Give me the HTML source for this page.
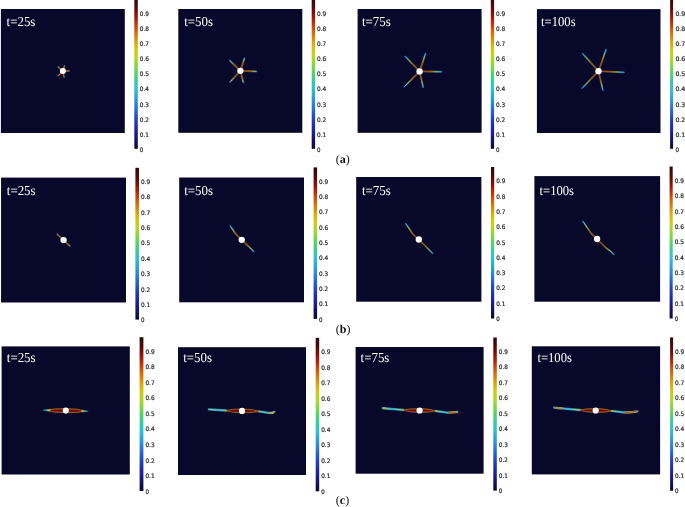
<!DOCTYPE html>
<html><head><meta charset="utf-8"><title>Figure</title>
<style>
html,body{margin:0;padding:0;background:#fff;overflow:hidden}
svg{display:block}
text{text-rendering:geometricPrecision}
.t{font-family:"Liberation Serif","Times New Roman",serif;font-size:13.7px;fill:#fff}
.k{font-family:"DejaVu Sans","Liberation Sans",sans-serif;font-size:6.2px;fill:#222;stroke:#222;stroke-width:0.2px}
.c{font-family:"Liberation Serif","Times New Roman",serif;font-size:12px;fill:#111}
</style></head>
<body>
<svg width="685" height="507" viewBox="0 0 685 507">
<defs>
<linearGradient id="cm" x1="0" y1="1" x2="0" y2="0">
<stop offset="0.0" stop-color="#0a0a2a"/><stop offset="0.05" stop-color="#121260"/><stop offset="0.1" stop-color="#1a1c94"/><stop offset="0.15" stop-color="#1e2eb0"/><stop offset="0.2" stop-color="#2244c4"/><stop offset="0.25" stop-color="#2666d2"/><stop offset="0.3" stop-color="#2a88dc"/><stop offset="0.35" stop-color="#2aa8da"/><stop offset="0.4" stop-color="#2cc4d0"/><stop offset="0.45" stop-color="#38cc9c"/><stop offset="0.5" stop-color="#54d468"/><stop offset="0.55" stop-color="#84d83c"/><stop offset="0.6" stop-color="#b4d81c"/><stop offset="0.65" stop-color="#d4c810"/><stop offset="0.7" stop-color="#dca40a"/><stop offset="0.75" stop-color="#d87808"/><stop offset="0.8" stop-color="#cc4c08"/><stop offset="0.85" stop-color="#b02008"/><stop offset="0.9" stop-color="#7c0c08"/><stop offset="0.95" stop-color="#4a0a08"/><stop offset="1.0" stop-color="#2a0a0a"/>
</linearGradient>
<filter id="b" x="-20%" y="-20%" width="140%" height="140%"><feGaussianBlur stdDeviation="0.35"/></filter>
<linearGradient id="g1c" gradientUnits="userSpaceOnUse" x1="62.90" y1="71.10" x2="58.10" y2="66.80"><stop offset="0" stop-color="#b85010"/><stop offset="0.75" stop-color="#c06414"/><stop offset="0.92" stop-color="#a08840"/><stop offset="1" stop-color="#507890"/></linearGradient>
<linearGradient id="g1h" gradientUnits="userSpaceOnUse" x1="62.90" y1="71.10" x2="58.10" y2="66.80"><stop offset="0" stop-color="#604020"/><stop offset="0.8" stop-color="#705028"/><stop offset="1" stop-color="#204868"/></linearGradient>
<linearGradient id="g2c" gradientUnits="userSpaceOnUse" x1="62.90" y1="71.10" x2="64.50" y2="65.60"><stop offset="0" stop-color="#b85010"/><stop offset="0.75" stop-color="#c06414"/><stop offset="0.92" stop-color="#a08840"/><stop offset="1" stop-color="#507890"/></linearGradient>
<linearGradient id="g2h" gradientUnits="userSpaceOnUse" x1="62.90" y1="71.10" x2="64.50" y2="65.60"><stop offset="0" stop-color="#604020"/><stop offset="0.8" stop-color="#705028"/><stop offset="1" stop-color="#204868"/></linearGradient>
<linearGradient id="g3c" gradientUnits="userSpaceOnUse" x1="62.90" y1="71.10" x2="69.30" y2="70.90"><stop offset="0" stop-color="#b85010"/><stop offset="0.75" stop-color="#c06414"/><stop offset="0.92" stop-color="#a08840"/><stop offset="1" stop-color="#507890"/></linearGradient>
<linearGradient id="g3h" gradientUnits="userSpaceOnUse" x1="62.90" y1="71.10" x2="69.30" y2="70.90"><stop offset="0" stop-color="#604020"/><stop offset="0.8" stop-color="#705028"/><stop offset="1" stop-color="#204868"/></linearGradient>
<linearGradient id="g4c" gradientUnits="userSpaceOnUse" x1="62.90" y1="71.10" x2="58.10" y2="75.70"><stop offset="0" stop-color="#b85010"/><stop offset="0.75" stop-color="#c06414"/><stop offset="0.92" stop-color="#a08840"/><stop offset="1" stop-color="#507890"/></linearGradient>
<linearGradient id="g4h" gradientUnits="userSpaceOnUse" x1="62.90" y1="71.10" x2="58.10" y2="75.70"><stop offset="0" stop-color="#604020"/><stop offset="0.8" stop-color="#705028"/><stop offset="1" stop-color="#204868"/></linearGradient>
<linearGradient id="g5c" gradientUnits="userSpaceOnUse" x1="62.90" y1="71.10" x2="64.10" y2="77.50"><stop offset="0" stop-color="#b85010"/><stop offset="0.75" stop-color="#c06414"/><stop offset="0.92" stop-color="#a08840"/><stop offset="1" stop-color="#507890"/></linearGradient>
<linearGradient id="g5h" gradientUnits="userSpaceOnUse" x1="62.90" y1="71.10" x2="64.10" y2="77.50"><stop offset="0" stop-color="#604020"/><stop offset="0.8" stop-color="#705028"/><stop offset="1" stop-color="#204868"/></linearGradient>
<linearGradient id="g6c" gradientUnits="userSpaceOnUse" x1="240.40" y1="70.80" x2="229.75" y2="60.54"><stop offset="0" stop-color="#a03c0c"/><stop offset="0.6" stop-color="#b04c10"/><stop offset="0.78" stop-color="#c88414"/><stop offset="0.88" stop-color="#b8c838"/><stop offset="0.95" stop-color="#50d0b8"/><stop offset="1" stop-color="#38a8e0"/></linearGradient>
<linearGradient id="g6h" gradientUnits="userSpaceOnUse" x1="240.40" y1="70.80" x2="229.75" y2="60.54"><stop offset="0" stop-color="#907020"/><stop offset="0.55" stop-color="#a08828"/><stop offset="0.8" stop-color="#50a090"/><stop offset="1" stop-color="#2464b8"/></linearGradient>
<linearGradient id="g7c" gradientUnits="userSpaceOnUse" x1="240.40" y1="70.80" x2="244.50" y2="58.30"><stop offset="0" stop-color="#a03c0c"/><stop offset="0.6" stop-color="#b04c10"/><stop offset="0.78" stop-color="#c88414"/><stop offset="0.88" stop-color="#b8c838"/><stop offset="0.95" stop-color="#50d0b8"/><stop offset="1" stop-color="#38a8e0"/></linearGradient>
<linearGradient id="g7h" gradientUnits="userSpaceOnUse" x1="240.40" y1="70.80" x2="244.50" y2="58.30"><stop offset="0" stop-color="#907020"/><stop offset="0.55" stop-color="#a08828"/><stop offset="0.8" stop-color="#50a090"/><stop offset="1" stop-color="#2464b8"/></linearGradient>
<linearGradient id="g8c" gradientUnits="userSpaceOnUse" x1="240.40" y1="70.80" x2="256.40" y2="71.40"><stop offset="0" stop-color="#a03c0c"/><stop offset="0.6" stop-color="#b04c10"/><stop offset="0.78" stop-color="#c88414"/><stop offset="0.88" stop-color="#b8c838"/><stop offset="0.95" stop-color="#50d0b8"/><stop offset="1" stop-color="#38a8e0"/></linearGradient>
<linearGradient id="g8h" gradientUnits="userSpaceOnUse" x1="240.40" y1="70.80" x2="256.40" y2="71.40"><stop offset="0" stop-color="#907020"/><stop offset="0.55" stop-color="#a08828"/><stop offset="0.8" stop-color="#50a090"/><stop offset="1" stop-color="#2464b8"/></linearGradient>
<linearGradient id="g9c" gradientUnits="userSpaceOnUse" x1="240.40" y1="70.80" x2="230.20" y2="81.90"><stop offset="0" stop-color="#a03c0c"/><stop offset="0.6" stop-color="#b04c10"/><stop offset="0.78" stop-color="#c88414"/><stop offset="0.88" stop-color="#b8c838"/><stop offset="0.95" stop-color="#50d0b8"/><stop offset="1" stop-color="#38a8e0"/></linearGradient>
<linearGradient id="g9h" gradientUnits="userSpaceOnUse" x1="240.40" y1="70.80" x2="230.20" y2="81.90"><stop offset="0" stop-color="#907020"/><stop offset="0.55" stop-color="#a08828"/><stop offset="0.8" stop-color="#50a090"/><stop offset="1" stop-color="#2464b8"/></linearGradient>
<linearGradient id="g10c" gradientUnits="userSpaceOnUse" x1="240.40" y1="70.80" x2="243.30" y2="82.40"><stop offset="0" stop-color="#a03c0c"/><stop offset="0.6" stop-color="#b04c10"/><stop offset="0.78" stop-color="#c88414"/><stop offset="0.88" stop-color="#b8c838"/><stop offset="0.95" stop-color="#50d0b8"/><stop offset="1" stop-color="#38a8e0"/></linearGradient>
<linearGradient id="g10h" gradientUnits="userSpaceOnUse" x1="240.40" y1="70.80" x2="243.30" y2="82.40"><stop offset="0" stop-color="#907020"/><stop offset="0.55" stop-color="#a08828"/><stop offset="0.8" stop-color="#50a090"/><stop offset="1" stop-color="#2464b8"/></linearGradient>
<linearGradient id="g11c" gradientUnits="userSpaceOnUse" x1="419.60" y1="71.40" x2="405.20" y2="56.40"><stop offset="0" stop-color="#a03c0c"/><stop offset="0.45" stop-color="#b04c10"/><stop offset="0.62" stop-color="#c88414"/><stop offset="0.74" stop-color="#c0c830"/><stop offset="0.85" stop-color="#60d0a0"/><stop offset="0.93" stop-color="#38c8e0"/><stop offset="1" stop-color="#38a0e8"/></linearGradient>
<linearGradient id="g11h" gradientUnits="userSpaceOnUse" x1="419.60" y1="71.40" x2="405.20" y2="56.40"><stop offset="0" stop-color="#907020"/><stop offset="0.4" stop-color="#a08c28"/><stop offset="0.65" stop-color="#58a878"/><stop offset="0.85" stop-color="#2c8cb8"/><stop offset="1" stop-color="#2454b8"/></linearGradient>
<linearGradient id="g12c" gradientUnits="userSpaceOnUse" x1="419.60" y1="71.40" x2="425.50" y2="53.60"><stop offset="0" stop-color="#a03c0c"/><stop offset="0.45" stop-color="#b04c10"/><stop offset="0.62" stop-color="#c88414"/><stop offset="0.74" stop-color="#c0c830"/><stop offset="0.85" stop-color="#60d0a0"/><stop offset="0.93" stop-color="#38c8e0"/><stop offset="1" stop-color="#38a0e8"/></linearGradient>
<linearGradient id="g12h" gradientUnits="userSpaceOnUse" x1="419.60" y1="71.40" x2="425.50" y2="53.60"><stop offset="0" stop-color="#907020"/><stop offset="0.4" stop-color="#a08c28"/><stop offset="0.65" stop-color="#58a878"/><stop offset="0.85" stop-color="#2c8cb8"/><stop offset="1" stop-color="#2454b8"/></linearGradient>
<linearGradient id="g13c" gradientUnits="userSpaceOnUse" x1="419.60" y1="71.40" x2="441.50" y2="71.80"><stop offset="0" stop-color="#a03c0c"/><stop offset="0.45" stop-color="#b04c10"/><stop offset="0.62" stop-color="#c88414"/><stop offset="0.74" stop-color="#c0c830"/><stop offset="0.85" stop-color="#60d0a0"/><stop offset="0.93" stop-color="#38c8e0"/><stop offset="1" stop-color="#38a0e8"/></linearGradient>
<linearGradient id="g13h" gradientUnits="userSpaceOnUse" x1="419.60" y1="71.40" x2="441.50" y2="71.80"><stop offset="0" stop-color="#907020"/><stop offset="0.4" stop-color="#a08c28"/><stop offset="0.65" stop-color="#58a878"/><stop offset="0.85" stop-color="#2c8cb8"/><stop offset="1" stop-color="#2454b8"/></linearGradient>
<linearGradient id="g14c" gradientUnits="userSpaceOnUse" x1="419.60" y1="71.40" x2="404.20" y2="86.80"><stop offset="0" stop-color="#a03c0c"/><stop offset="0.45" stop-color="#b04c10"/><stop offset="0.62" stop-color="#c88414"/><stop offset="0.74" stop-color="#c0c830"/><stop offset="0.85" stop-color="#60d0a0"/><stop offset="0.93" stop-color="#38c8e0"/><stop offset="1" stop-color="#38a0e8"/></linearGradient>
<linearGradient id="g14h" gradientUnits="userSpaceOnUse" x1="419.60" y1="71.40" x2="404.20" y2="86.80"><stop offset="0" stop-color="#907020"/><stop offset="0.4" stop-color="#a08c28"/><stop offset="0.65" stop-color="#58a878"/><stop offset="0.85" stop-color="#2c8cb8"/><stop offset="1" stop-color="#2454b8"/></linearGradient>
<linearGradient id="g15c" gradientUnits="userSpaceOnUse" x1="419.60" y1="71.40" x2="423.20" y2="87.40"><stop offset="0" stop-color="#a03c0c"/><stop offset="0.45" stop-color="#b04c10"/><stop offset="0.62" stop-color="#c88414"/><stop offset="0.74" stop-color="#c0c830"/><stop offset="0.85" stop-color="#60d0a0"/><stop offset="0.93" stop-color="#38c8e0"/><stop offset="1" stop-color="#38a0e8"/></linearGradient>
<linearGradient id="g15h" gradientUnits="userSpaceOnUse" x1="419.60" y1="71.40" x2="423.20" y2="87.40"><stop offset="0" stop-color="#907020"/><stop offset="0.4" stop-color="#a08c28"/><stop offset="0.65" stop-color="#58a878"/><stop offset="0.85" stop-color="#2c8cb8"/><stop offset="1" stop-color="#2454b8"/></linearGradient>
<linearGradient id="g16c" gradientUnits="userSpaceOnUse" x1="598.50" y1="71.20" x2="582.60" y2="53.70"><stop offset="0" stop-color="#a03c0c"/><stop offset="0.45" stop-color="#b04c10"/><stop offset="0.62" stop-color="#c88414"/><stop offset="0.74" stop-color="#c0c830"/><stop offset="0.85" stop-color="#60d0a0"/><stop offset="0.93" stop-color="#38c8e0"/><stop offset="1" stop-color="#38a0e8"/></linearGradient>
<linearGradient id="g16h" gradientUnits="userSpaceOnUse" x1="598.50" y1="71.20" x2="582.60" y2="53.70"><stop offset="0" stop-color="#907020"/><stop offset="0.4" stop-color="#a08c28"/><stop offset="0.65" stop-color="#58a878"/><stop offset="0.85" stop-color="#2c8cb8"/><stop offset="1" stop-color="#2454b8"/></linearGradient>
<linearGradient id="g17c" gradientUnits="userSpaceOnUse" x1="598.50" y1="71.20" x2="606.10" y2="49.50"><stop offset="0" stop-color="#a03c0c"/><stop offset="0.45" stop-color="#b04c10"/><stop offset="0.62" stop-color="#c88414"/><stop offset="0.74" stop-color="#c0c830"/><stop offset="0.85" stop-color="#60d0a0"/><stop offset="0.93" stop-color="#38c8e0"/><stop offset="1" stop-color="#38a0e8"/></linearGradient>
<linearGradient id="g17h" gradientUnits="userSpaceOnUse" x1="598.50" y1="71.20" x2="606.10" y2="49.50"><stop offset="0" stop-color="#907020"/><stop offset="0.4" stop-color="#a08c28"/><stop offset="0.65" stop-color="#58a878"/><stop offset="0.85" stop-color="#2c8cb8"/><stop offset="1" stop-color="#2454b8"/></linearGradient>
<linearGradient id="g18c" gradientUnits="userSpaceOnUse" x1="598.50" y1="71.20" x2="624.00" y2="72.30"><stop offset="0" stop-color="#a03c0c"/><stop offset="0.45" stop-color="#b04c10"/><stop offset="0.62" stop-color="#c88414"/><stop offset="0.74" stop-color="#c0c830"/><stop offset="0.85" stop-color="#60d0a0"/><stop offset="0.93" stop-color="#38c8e0"/><stop offset="1" stop-color="#38a0e8"/></linearGradient>
<linearGradient id="g18h" gradientUnits="userSpaceOnUse" x1="598.50" y1="71.20" x2="624.00" y2="72.30"><stop offset="0" stop-color="#907020"/><stop offset="0.4" stop-color="#a08c28"/><stop offset="0.65" stop-color="#58a878"/><stop offset="0.85" stop-color="#2c8cb8"/><stop offset="1" stop-color="#2454b8"/></linearGradient>
<linearGradient id="g19c" gradientUnits="userSpaceOnUse" x1="598.50" y1="71.20" x2="582.20" y2="88.20"><stop offset="0" stop-color="#a03c0c"/><stop offset="0.45" stop-color="#b04c10"/><stop offset="0.62" stop-color="#c88414"/><stop offset="0.74" stop-color="#c0c830"/><stop offset="0.85" stop-color="#60d0a0"/><stop offset="0.93" stop-color="#38c8e0"/><stop offset="1" stop-color="#38a0e8"/></linearGradient>
<linearGradient id="g19h" gradientUnits="userSpaceOnUse" x1="598.50" y1="71.20" x2="582.20" y2="88.20"><stop offset="0" stop-color="#907020"/><stop offset="0.4" stop-color="#a08c28"/><stop offset="0.65" stop-color="#58a878"/><stop offset="0.85" stop-color="#2c8cb8"/><stop offset="1" stop-color="#2454b8"/></linearGradient>
<linearGradient id="g20c" gradientUnits="userSpaceOnUse" x1="598.50" y1="71.20" x2="602.90" y2="90.20"><stop offset="0" stop-color="#a03c0c"/><stop offset="0.45" stop-color="#b04c10"/><stop offset="0.62" stop-color="#c88414"/><stop offset="0.74" stop-color="#c0c830"/><stop offset="0.85" stop-color="#60d0a0"/><stop offset="0.93" stop-color="#38c8e0"/><stop offset="1" stop-color="#38a0e8"/></linearGradient>
<linearGradient id="g20h" gradientUnits="userSpaceOnUse" x1="598.50" y1="71.20" x2="602.90" y2="90.20"><stop offset="0" stop-color="#907020"/><stop offset="0.4" stop-color="#a08c28"/><stop offset="0.65" stop-color="#58a878"/><stop offset="0.85" stop-color="#2c8cb8"/><stop offset="1" stop-color="#2454b8"/></linearGradient>
<linearGradient id="g21c" gradientUnits="userSpaceOnUse" x1="63.60" y1="240.10" x2="57.20" y2="234.20"><stop offset="0" stop-color="#b85010"/><stop offset="0.75" stop-color="#c06414"/><stop offset="0.92" stop-color="#a08840"/><stop offset="1" stop-color="#507890"/></linearGradient>
<linearGradient id="g21h" gradientUnits="userSpaceOnUse" x1="63.60" y1="240.10" x2="57.20" y2="234.20"><stop offset="0" stop-color="#604020"/><stop offset="0.8" stop-color="#705028"/><stop offset="1" stop-color="#204868"/></linearGradient>
<linearGradient id="g22c" gradientUnits="userSpaceOnUse" x1="63.60" y1="240.10" x2="69.70" y2="246.00"><stop offset="0" stop-color="#b85010"/><stop offset="0.75" stop-color="#c06414"/><stop offset="0.92" stop-color="#a08840"/><stop offset="1" stop-color="#507890"/></linearGradient>
<linearGradient id="g22h" gradientUnits="userSpaceOnUse" x1="63.60" y1="240.10" x2="69.70" y2="246.00"><stop offset="0" stop-color="#604020"/><stop offset="0.8" stop-color="#705028"/><stop offset="1" stop-color="#204868"/></linearGradient>
<linearGradient id="g23c" gradientUnits="userSpaceOnUse" x1="241.70" y1="239.80" x2="230.30" y2="226.00"><stop offset="0" stop-color="#a03c0c"/><stop offset="0.45" stop-color="#b04c10"/><stop offset="0.62" stop-color="#c88414"/><stop offset="0.74" stop-color="#c0c830"/><stop offset="0.85" stop-color="#60d0a0"/><stop offset="0.93" stop-color="#38c8e0"/><stop offset="1" stop-color="#38a0e8"/></linearGradient>
<linearGradient id="g23h" gradientUnits="userSpaceOnUse" x1="241.70" y1="239.80" x2="230.30" y2="226.00"><stop offset="0" stop-color="#907020"/><stop offset="0.4" stop-color="#a08c28"/><stop offset="0.65" stop-color="#58a878"/><stop offset="0.85" stop-color="#2c8cb8"/><stop offset="1" stop-color="#2454b8"/></linearGradient>
<linearGradient id="g24c" gradientUnits="userSpaceOnUse" x1="241.70" y1="239.80" x2="254.00" y2="251.60"><stop offset="0" stop-color="#a03c0c"/><stop offset="0.45" stop-color="#b04c10"/><stop offset="0.62" stop-color="#c88414"/><stop offset="0.74" stop-color="#c0c830"/><stop offset="0.85" stop-color="#60d0a0"/><stop offset="0.93" stop-color="#38c8e0"/><stop offset="1" stop-color="#38a0e8"/></linearGradient>
<linearGradient id="g24h" gradientUnits="userSpaceOnUse" x1="241.70" y1="239.80" x2="254.00" y2="251.60"><stop offset="0" stop-color="#907020"/><stop offset="0.4" stop-color="#a08c28"/><stop offset="0.65" stop-color="#58a878"/><stop offset="0.85" stop-color="#2c8cb8"/><stop offset="1" stop-color="#2454b8"/></linearGradient>
<linearGradient id="g25c" gradientUnits="userSpaceOnUse" x1="418.80" y1="239.50" x2="405.70" y2="223.60"><stop offset="0" stop-color="#a03c0c"/><stop offset="0.45" stop-color="#b04c10"/><stop offset="0.62" stop-color="#c88414"/><stop offset="0.74" stop-color="#c0c830"/><stop offset="0.85" stop-color="#60d0a0"/><stop offset="0.93" stop-color="#38c8e0"/><stop offset="1" stop-color="#38a0e8"/></linearGradient>
<linearGradient id="g25h" gradientUnits="userSpaceOnUse" x1="418.80" y1="239.50" x2="405.70" y2="223.60"><stop offset="0" stop-color="#907020"/><stop offset="0.4" stop-color="#a08c28"/><stop offset="0.65" stop-color="#58a878"/><stop offset="0.85" stop-color="#2c8cb8"/><stop offset="1" stop-color="#2454b8"/></linearGradient>
<linearGradient id="g26c" gradientUnits="userSpaceOnUse" x1="418.80" y1="239.50" x2="432.60" y2="253.30"><stop offset="0" stop-color="#a03c0c"/><stop offset="0.45" stop-color="#b04c10"/><stop offset="0.62" stop-color="#c88414"/><stop offset="0.74" stop-color="#c0c830"/><stop offset="0.85" stop-color="#60d0a0"/><stop offset="0.93" stop-color="#38c8e0"/><stop offset="1" stop-color="#38a0e8"/></linearGradient>
<linearGradient id="g26h" gradientUnits="userSpaceOnUse" x1="418.80" y1="239.50" x2="432.60" y2="253.30"><stop offset="0" stop-color="#907020"/><stop offset="0.4" stop-color="#a08c28"/><stop offset="0.65" stop-color="#58a878"/><stop offset="0.85" stop-color="#2c8cb8"/><stop offset="1" stop-color="#2454b8"/></linearGradient>
<linearGradient id="g27c" gradientUnits="userSpaceOnUse" x1="597.10" y1="239.00" x2="582.90" y2="221.30"><stop offset="0" stop-color="#a03c0c"/><stop offset="0.45" stop-color="#b04c10"/><stop offset="0.62" stop-color="#c88414"/><stop offset="0.74" stop-color="#c0c830"/><stop offset="0.85" stop-color="#60d0a0"/><stop offset="0.93" stop-color="#38c8e0"/><stop offset="1" stop-color="#38a0e8"/></linearGradient>
<linearGradient id="g27h" gradientUnits="userSpaceOnUse" x1="597.10" y1="239.00" x2="582.90" y2="221.30"><stop offset="0" stop-color="#907020"/><stop offset="0.4" stop-color="#a08c28"/><stop offset="0.65" stop-color="#58a878"/><stop offset="0.85" stop-color="#2c8cb8"/><stop offset="1" stop-color="#2454b8"/></linearGradient>
<linearGradient id="g28c" gradientUnits="userSpaceOnUse" x1="597.10" y1="239.00" x2="613.70" y2="254.50"><stop offset="0" stop-color="#a03c0c"/><stop offset="0.45" stop-color="#b04c10"/><stop offset="0.62" stop-color="#c88414"/><stop offset="0.74" stop-color="#c0c830"/><stop offset="0.85" stop-color="#60d0a0"/><stop offset="0.93" stop-color="#38c8e0"/><stop offset="1" stop-color="#38a0e8"/></linearGradient>
<linearGradient id="g28h" gradientUnits="userSpaceOnUse" x1="597.10" y1="239.00" x2="613.70" y2="254.50"><stop offset="0" stop-color="#907020"/><stop offset="0.4" stop-color="#a08c28"/><stop offset="0.65" stop-color="#58a878"/><stop offset="0.85" stop-color="#2c8cb8"/><stop offset="1" stop-color="#2454b8"/></linearGradient>
<linearGradient id="g29" gradientUnits="userSpaceOnUse" x1="43.00" y1="0" x2="88.20" y2="0"><stop offset="0" stop-color="#2c70d8"/><stop offset="0.06" stop-color="#38b8d8"/><stop offset="0.11" stop-color="#70d088"/><stop offset="0.15" stop-color="#c8c030"/><stop offset="0.19" stop-color="#b84810"/><stop offset="0.24" stop-color="#8c1808"/><stop offset="0.5" stop-color="#7a1006"/><stop offset="0.78" stop-color="#8c1808"/><stop offset="0.83" stop-color="#b84810"/><stop offset="0.87" stop-color="#c8c030"/><stop offset="0.91" stop-color="#70d088"/><stop offset="0.95" stop-color="#38b8d8"/><stop offset="1" stop-color="#2c70d8"/></linearGradient>
<linearGradient id="g29o" gradientUnits="userSpaceOnUse" x1="43.00" y1="0" x2="88.20" y2="0"><stop offset="0" stop-color="#2c70d8"/><stop offset="0.06" stop-color="#38b8d8"/><stop offset="0.11" stop-color="#70d088"/><stop offset="0.15" stop-color="#c8c030"/><stop offset="0.19" stop-color="#b84810"/><stop offset="0.24" stop-color="#c0a828"/><stop offset="0.78" stop-color="#c0a828"/><stop offset="0.83" stop-color="#b84810"/><stop offset="0.87" stop-color="#c8c030"/><stop offset="0.91" stop-color="#70d088"/><stop offset="0.95" stop-color="#38b8d8"/><stop offset="1" stop-color="#2c70d8"/></linearGradient>
<linearGradient id="g30" gradientUnits="userSpaceOnUse" x1="226.50" y1="410.50" x2="208.80" y2="409.40"><stop offset="0" stop-color="#c8c830"/><stop offset="0.25" stop-color="#78d878"/><stop offset="0.5" stop-color="#40c8d8"/><stop offset="0.7" stop-color="#78d878"/><stop offset="0.85" stop-color="#c8c830"/><stop offset="1" stop-color="#40c8d8"/></linearGradient>
<linearGradient id="g31" gradientUnits="userSpaceOnUse" x1="258.50" y1="411.40" x2="274.40" y2="411.90"><stop offset="0" stop-color="#c8c830"/><stop offset="0.25" stop-color="#78d878"/><stop offset="0.5" stop-color="#40c8d8"/><stop offset="0.65" stop-color="#40c8d8"/><stop offset="0.78" stop-color="#e08810"/><stop offset="0.93" stop-color="#c8c830"/><stop offset="1" stop-color="#40c8d8"/></linearGradient>
<linearGradient id="g32" gradientUnits="userSpaceOnUse" x1="225.00" y1="0" x2="260.00" y2="0"><stop offset="0" stop-color="#c8c030"/><stop offset="0.07" stop-color="#b84810"/><stop offset="0.14" stop-color="#8c1808"/><stop offset="0.5" stop-color="#7a1006"/><stop offset="0.86" stop-color="#8c1808"/><stop offset="0.93" stop-color="#b84810"/><stop offset="1" stop-color="#c8c030"/></linearGradient>
<linearGradient id="g32o" gradientUnits="userSpaceOnUse" x1="225.00" y1="0" x2="260.00" y2="0"><stop offset="0" stop-color="#c8c030"/><stop offset="0.07" stop-color="#b84810"/><stop offset="0.14" stop-color="#c0a828"/><stop offset="0.86" stop-color="#c0a828"/><stop offset="0.93" stop-color="#b84810"/><stop offset="1" stop-color="#c8c030"/></linearGradient>
<linearGradient id="g33" gradientUnits="userSpaceOnUse" x1="403.50" y1="410.00" x2="382.80" y2="408.20"><stop offset="0" stop-color="#c8c830"/><stop offset="0.25" stop-color="#78d878"/><stop offset="0.55" stop-color="#40c8d8"/><stop offset="0.8" stop-color="#78d878"/><stop offset="0.92" stop-color="#e08810"/><stop offset="1" stop-color="#40c8d8"/></linearGradient>
<linearGradient id="g34" gradientUnits="userSpaceOnUse" x1="435.50" y1="411.00" x2="457.20" y2="412.00"><stop offset="0" stop-color="#c8c830"/><stop offset="0.2" stop-color="#78d878"/><stop offset="0.4" stop-color="#40c8d8"/><stop offset="0.52" stop-color="#40c8d8"/><stop offset="0.62" stop-color="#e08810"/><stop offset="0.9" stop-color="#c83c08"/><stop offset="1" stop-color="#c8c830"/></linearGradient>
<linearGradient id="g35" gradientUnits="userSpaceOnUse" x1="402.10" y1="0" x2="436.60" y2="0"><stop offset="0" stop-color="#c8c030"/><stop offset="0.07" stop-color="#b84810"/><stop offset="0.14" stop-color="#8c1808"/><stop offset="0.5" stop-color="#7a1006"/><stop offset="0.86" stop-color="#8c1808"/><stop offset="0.93" stop-color="#b84810"/><stop offset="1" stop-color="#c8c030"/></linearGradient>
<linearGradient id="g35o" gradientUnits="userSpaceOnUse" x1="402.10" y1="0" x2="436.60" y2="0"><stop offset="0" stop-color="#c8c030"/><stop offset="0.07" stop-color="#b84810"/><stop offset="0.14" stop-color="#c0a828"/><stop offset="0.86" stop-color="#c0a828"/><stop offset="0.93" stop-color="#b84810"/><stop offset="1" stop-color="#c8c030"/></linearGradient>
<linearGradient id="g36" gradientUnits="userSpaceOnUse" x1="580.00" y1="410.00" x2="554.20" y2="407.70"><stop offset="0" stop-color="#c8c830"/><stop offset="0.25" stop-color="#78d878"/><stop offset="0.5" stop-color="#40c8d8"/><stop offset="0.68" stop-color="#40c8d8"/><stop offset="0.78" stop-color="#e08810"/><stop offset="0.92" stop-color="#c83c08"/><stop offset="1" stop-color="#40c8d8"/></linearGradient>
<linearGradient id="g37" gradientUnits="userSpaceOnUse" x1="611.50" y1="410.90" x2="637.30" y2="411.40"><stop offset="0" stop-color="#c8c830"/><stop offset="0.2" stop-color="#78d878"/><stop offset="0.35" stop-color="#40c8d8"/><stop offset="0.45" stop-color="#40c8d8"/><stop offset="0.55" stop-color="#e08810"/><stop offset="0.75" stop-color="#c83c08"/><stop offset="0.92" stop-color="#e08810"/><stop offset="1" stop-color="#c8c830"/></linearGradient>
<linearGradient id="g38" gradientUnits="userSpaceOnUse" x1="578.70" y1="0" x2="612.70" y2="0"><stop offset="0" stop-color="#c8c030"/><stop offset="0.07" stop-color="#b84810"/><stop offset="0.14" stop-color="#8c1808"/><stop offset="0.5" stop-color="#7a1006"/><stop offset="0.86" stop-color="#8c1808"/><stop offset="0.93" stop-color="#b84810"/><stop offset="1" stop-color="#c8c030"/></linearGradient>
<linearGradient id="g38o" gradientUnits="userSpaceOnUse" x1="578.70" y1="0" x2="612.70" y2="0"><stop offset="0" stop-color="#c8c030"/><stop offset="0.07" stop-color="#b84810"/><stop offset="0.14" stop-color="#c0a828"/><stop offset="0.86" stop-color="#c0a828"/><stop offset="0.93" stop-color="#b84810"/><stop offset="1" stop-color="#c8c030"/></linearGradient>
</defs>
<rect width="685" height="507" fill="#fff"/>
<rect x="0.9" y="9.0" width="123.90" height="124.00" fill="#08082a"/>
<text class="t" x="6.6" y="26.1" textLength="28.8" lengthAdjust="spacingAndGlyphs">t=25s</text>
<rect x="134.3" y="-3.0" width="3.50" height="151.80" fill="url(#cm)"/>
<text class="k" x="139.8" y="151.75" textLength="3.5" lengthAdjust="spacingAndGlyphs">0</text><text class="k" x="139.8" y="136.67" textLength="9.2" lengthAdjust="spacingAndGlyphs">0.1</text><text class="k" x="139.8" y="121.59" textLength="9.2" lengthAdjust="spacingAndGlyphs">0.2</text><text class="k" x="139.8" y="106.51" textLength="9.2" lengthAdjust="spacingAndGlyphs">0.3</text><text class="k" x="139.8" y="91.43" textLength="9.2" lengthAdjust="spacingAndGlyphs">0.4</text><text class="k" x="139.8" y="76.35" textLength="9.2" lengthAdjust="spacingAndGlyphs">0.5</text><text class="k" x="139.8" y="61.27" textLength="9.2" lengthAdjust="spacingAndGlyphs">0.6</text><text class="k" x="139.8" y="46.19" textLength="9.2" lengthAdjust="spacingAndGlyphs">0.7</text><text class="k" x="139.8" y="31.11" textLength="9.2" lengthAdjust="spacingAndGlyphs">0.8</text><text class="k" x="139.8" y="16.03" textLength="9.2" lengthAdjust="spacingAndGlyphs">0.9</text>
<rect x="178.3" y="9.0" width="124.00" height="123.80" fill="#08082a"/>
<text class="t" x="184.2" y="26.1" textLength="28.8" lengthAdjust="spacingAndGlyphs">t=50s</text>
<rect x="311.7" y="-3.0" width="3.40" height="151.80" fill="url(#cm)"/>
<text class="k" x="317.1" y="151.75" textLength="3.5" lengthAdjust="spacingAndGlyphs">0</text><text class="k" x="317.1" y="136.67" textLength="9.2" lengthAdjust="spacingAndGlyphs">0.1</text><text class="k" x="317.1" y="121.59" textLength="9.2" lengthAdjust="spacingAndGlyphs">0.2</text><text class="k" x="317.1" y="106.51" textLength="9.2" lengthAdjust="spacingAndGlyphs">0.3</text><text class="k" x="317.1" y="91.43" textLength="9.2" lengthAdjust="spacingAndGlyphs">0.4</text><text class="k" x="317.1" y="76.35" textLength="9.2" lengthAdjust="spacingAndGlyphs">0.5</text><text class="k" x="317.1" y="61.27" textLength="9.2" lengthAdjust="spacingAndGlyphs">0.6</text><text class="k" x="317.1" y="46.19" textLength="9.2" lengthAdjust="spacingAndGlyphs">0.7</text><text class="k" x="317.1" y="31.11" textLength="9.2" lengthAdjust="spacingAndGlyphs">0.8</text><text class="k" x="317.1" y="16.03" textLength="9.2" lengthAdjust="spacingAndGlyphs">0.9</text>
<rect x="357.6" y="9.0" width="124.00" height="123.80" fill="#08082a"/>
<text class="t" x="361.9" y="26.1" textLength="28.8" lengthAdjust="spacingAndGlyphs">t=75s</text>
<rect x="490.8" y="-3.0" width="3.30" height="151.80" fill="url(#cm)"/>
<text class="k" x="496.1" y="151.75" textLength="3.5" lengthAdjust="spacingAndGlyphs">0</text><text class="k" x="496.1" y="136.67" textLength="9.2" lengthAdjust="spacingAndGlyphs">0.1</text><text class="k" x="496.1" y="121.59" textLength="9.2" lengthAdjust="spacingAndGlyphs">0.2</text><text class="k" x="496.1" y="106.51" textLength="9.2" lengthAdjust="spacingAndGlyphs">0.3</text><text class="k" x="496.1" y="91.43" textLength="9.2" lengthAdjust="spacingAndGlyphs">0.4</text><text class="k" x="496.1" y="76.35" textLength="9.2" lengthAdjust="spacingAndGlyphs">0.5</text><text class="k" x="496.1" y="61.27" textLength="9.2" lengthAdjust="spacingAndGlyphs">0.6</text><text class="k" x="496.1" y="46.19" textLength="9.2" lengthAdjust="spacingAndGlyphs">0.7</text><text class="k" x="496.1" y="31.11" textLength="9.2" lengthAdjust="spacingAndGlyphs">0.8</text><text class="k" x="496.1" y="16.03" textLength="9.2" lengthAdjust="spacingAndGlyphs">0.9</text>
<rect x="536.9" y="9.1" width="123.60" height="123.90" fill="#08082a"/>
<text class="t" x="541.1" y="26.1" textLength="34.5" lengthAdjust="spacingAndGlyphs">t=100s</text>
<rect x="670.1" y="-3.0" width="3.00" height="151.80" fill="url(#cm)"/>
<text class="k" x="675.4" y="151.75" textLength="3.5" lengthAdjust="spacingAndGlyphs">0</text><text class="k" x="675.4" y="136.67" textLength="9.9" lengthAdjust="spacingAndGlyphs">0.1</text><text class="k" x="675.4" y="121.59" textLength="9.9" lengthAdjust="spacingAndGlyphs">0.2</text><text class="k" x="675.4" y="106.51" textLength="9.9" lengthAdjust="spacingAndGlyphs">0.3</text><text class="k" x="675.4" y="91.43" textLength="9.9" lengthAdjust="spacingAndGlyphs">0.4</text><text class="k" x="675.4" y="76.35" textLength="9.9" lengthAdjust="spacingAndGlyphs">0.5</text><text class="k" x="675.4" y="61.27" textLength="9.9" lengthAdjust="spacingAndGlyphs">0.6</text><text class="k" x="675.4" y="46.19" textLength="9.9" lengthAdjust="spacingAndGlyphs">0.7</text><text class="k" x="675.4" y="31.11" textLength="9.9" lengthAdjust="spacingAndGlyphs">0.8</text><text class="k" x="675.4" y="16.03" textLength="9.9" lengthAdjust="spacingAndGlyphs">0.9</text>
<g filter="url(#b)"><path d="M62.90 71.10 L58.10 66.80" fill="none" stroke="url(#g1h)" stroke-width="1.9" stroke-linecap="round" stroke-linejoin="round" opacity="0.5"/><path d="M62.90 71.10 L58.10 66.80" fill="none" stroke="url(#g1c)" stroke-width="1.1" stroke-linecap="round" stroke-linejoin="round"/><path d="M62.90 71.10 L64.50 65.60" fill="none" stroke="url(#g2h)" stroke-width="1.9" stroke-linecap="round" stroke-linejoin="round" opacity="0.5"/><path d="M62.90 71.10 L64.50 65.60" fill="none" stroke="url(#g2c)" stroke-width="1.1" stroke-linecap="round" stroke-linejoin="round"/><path d="M62.90 71.10 L69.30 70.90" fill="none" stroke="url(#g3h)" stroke-width="1.9" stroke-linecap="round" stroke-linejoin="round" opacity="0.5"/><path d="M62.90 71.10 L69.30 70.90" fill="none" stroke="url(#g3c)" stroke-width="1.1" stroke-linecap="round" stroke-linejoin="round"/><path d="M62.90 71.10 L58.10 75.70" fill="none" stroke="url(#g4h)" stroke-width="1.9" stroke-linecap="round" stroke-linejoin="round" opacity="0.5"/><path d="M62.90 71.10 L58.10 75.70" fill="none" stroke="url(#g4c)" stroke-width="1.1" stroke-linecap="round" stroke-linejoin="round"/><path d="M62.90 71.10 L64.10 77.50" fill="none" stroke="url(#g5h)" stroke-width="1.9" stroke-linecap="round" stroke-linejoin="round" opacity="0.5"/><path d="M62.90 71.10 L64.10 77.50" fill="none" stroke="url(#g5c)" stroke-width="1.1" stroke-linecap="round" stroke-linejoin="round"/></g><circle cx="62.90" cy="71.10" r="3.0" fill="#fff"/>
<g filter="url(#b)"><path d="M240.40 70.80 L229.75 60.54" fill="none" stroke="url(#g6h)" stroke-width="2.0" stroke-linecap="round" stroke-linejoin="round" opacity="0.65"/><path d="M240.40 70.80 L229.75 60.54" fill="none" stroke="url(#g6c)" stroke-width="0.95" stroke-linecap="round" stroke-linejoin="round"/><path d="M240.40 70.80 L244.50 58.30" fill="none" stroke="url(#g7h)" stroke-width="2.0" stroke-linecap="round" stroke-linejoin="round" opacity="0.65"/><path d="M240.40 70.80 L244.50 58.30" fill="none" stroke="url(#g7c)" stroke-width="0.95" stroke-linecap="round" stroke-linejoin="round"/><path d="M240.40 70.80 L256.40 71.40" fill="none" stroke="url(#g8h)" stroke-width="2.0" stroke-linecap="round" stroke-linejoin="round" opacity="0.65"/><path d="M240.40 70.80 L256.40 71.40" fill="none" stroke="url(#g8c)" stroke-width="0.95" stroke-linecap="round" stroke-linejoin="round"/><path d="M240.40 70.80 L230.20 81.90" fill="none" stroke="url(#g9h)" stroke-width="2.0" stroke-linecap="round" stroke-linejoin="round" opacity="0.65"/><path d="M240.40 70.80 L230.20 81.90" fill="none" stroke="url(#g9c)" stroke-width="0.95" stroke-linecap="round" stroke-linejoin="round"/><path d="M240.40 70.80 L243.30 82.40" fill="none" stroke="url(#g10h)" stroke-width="2.0" stroke-linecap="round" stroke-linejoin="round" opacity="0.65"/><path d="M240.40 70.80 L243.30 82.40" fill="none" stroke="url(#g10c)" stroke-width="0.95" stroke-linecap="round" stroke-linejoin="round"/></g><circle cx="240.40" cy="70.80" r="3.15" fill="#fff"/>
<g filter="url(#b)"><path d="M419.60 71.40 L405.20 56.40" fill="none" stroke="url(#g11h)" stroke-width="1.9" stroke-linecap="round" stroke-linejoin="round" opacity="0.65"/><path d="M419.60 71.40 L405.20 56.40" fill="none" stroke="url(#g11c)" stroke-width="0.9" stroke-linecap="round" stroke-linejoin="round"/><path d="M419.60 71.40 L425.50 53.60" fill="none" stroke="url(#g12h)" stroke-width="1.9" stroke-linecap="round" stroke-linejoin="round" opacity="0.65"/><path d="M419.60 71.40 L425.50 53.60" fill="none" stroke="url(#g12c)" stroke-width="0.9" stroke-linecap="round" stroke-linejoin="round"/><path d="M419.60 71.40 L441.50 71.80" fill="none" stroke="url(#g13h)" stroke-width="1.9" stroke-linecap="round" stroke-linejoin="round" opacity="0.65"/><path d="M419.60 71.40 L441.50 71.80" fill="none" stroke="url(#g13c)" stroke-width="0.9" stroke-linecap="round" stroke-linejoin="round"/><path d="M419.60 71.40 L404.20 86.80" fill="none" stroke="url(#g14h)" stroke-width="1.9" stroke-linecap="round" stroke-linejoin="round" opacity="0.65"/><path d="M419.60 71.40 L404.20 86.80" fill="none" stroke="url(#g14c)" stroke-width="0.9" stroke-linecap="round" stroke-linejoin="round"/><path d="M419.60 71.40 L423.20 87.40" fill="none" stroke="url(#g15h)" stroke-width="1.9" stroke-linecap="round" stroke-linejoin="round" opacity="0.65"/><path d="M419.60 71.40 L423.20 87.40" fill="none" stroke="url(#g15c)" stroke-width="0.9" stroke-linecap="round" stroke-linejoin="round"/></g><circle cx="419.60" cy="71.40" r="3.15" fill="#fff"/>
<g filter="url(#b)"><path d="M598.50 71.20 L582.60 53.70" fill="none" stroke="url(#g16h)" stroke-width="1.8" stroke-linecap="round" stroke-linejoin="round" opacity="0.65"/><path d="M598.50 71.20 L582.60 53.70" fill="none" stroke="url(#g16c)" stroke-width="0.85" stroke-linecap="round" stroke-linejoin="round"/><path d="M598.50 71.20 L606.10 49.50" fill="none" stroke="url(#g17h)" stroke-width="1.8" stroke-linecap="round" stroke-linejoin="round" opacity="0.65"/><path d="M598.50 71.20 L606.10 49.50" fill="none" stroke="url(#g17c)" stroke-width="0.85" stroke-linecap="round" stroke-linejoin="round"/><path d="M598.50 71.20 L624.00 72.30" fill="none" stroke="url(#g18h)" stroke-width="1.8" stroke-linecap="round" stroke-linejoin="round" opacity="0.65"/><path d="M598.50 71.20 L624.00 72.30" fill="none" stroke="url(#g18c)" stroke-width="0.85" stroke-linecap="round" stroke-linejoin="round"/><path d="M598.50 71.20 L582.20 88.20" fill="none" stroke="url(#g19h)" stroke-width="1.8" stroke-linecap="round" stroke-linejoin="round" opacity="0.65"/><path d="M598.50 71.20 L582.20 88.20" fill="none" stroke="url(#g19c)" stroke-width="0.85" stroke-linecap="round" stroke-linejoin="round"/><path d="M598.50 71.20 L602.90 90.20" fill="none" stroke="url(#g20h)" stroke-width="1.8" stroke-linecap="round" stroke-linejoin="round" opacity="0.65"/><path d="M598.50 71.20 L602.90 90.20" fill="none" stroke="url(#g20c)" stroke-width="0.85" stroke-linecap="round" stroke-linejoin="round"/></g><circle cx="598.50" cy="71.20" r="3.15" fill="#fff"/>
<rect x="1.05" y="177.6" width="124.95" height="124.90" fill="#08082a"/>
<text class="t" x="6.8" y="195.0" textLength="28.8" lengthAdjust="spacingAndGlyphs">t=25s</text>
<rect x="135.4" y="167.8" width="3.60" height="151.80" fill="url(#cm)"/>
<text class="k" x="141.0" y="322.25" textLength="3.5" lengthAdjust="spacingAndGlyphs">0</text><text class="k" x="141.0" y="306.88" textLength="9.2" lengthAdjust="spacingAndGlyphs">0.1</text><text class="k" x="141.0" y="291.51" textLength="9.2" lengthAdjust="spacingAndGlyphs">0.2</text><text class="k" x="141.0" y="276.14" textLength="9.2" lengthAdjust="spacingAndGlyphs">0.3</text><text class="k" x="141.0" y="260.77" textLength="9.2" lengthAdjust="spacingAndGlyphs">0.4</text><text class="k" x="141.0" y="245.40" textLength="9.2" lengthAdjust="spacingAndGlyphs">0.5</text><text class="k" x="141.0" y="230.03" textLength="9.2" lengthAdjust="spacingAndGlyphs">0.6</text><text class="k" x="141.0" y="214.66" textLength="9.2" lengthAdjust="spacingAndGlyphs">0.7</text><text class="k" x="141.0" y="199.29" textLength="9.2" lengthAdjust="spacingAndGlyphs">0.8</text><text class="k" x="141.0" y="183.92" textLength="9.2" lengthAdjust="spacingAndGlyphs">0.9</text>
<rect x="179.2" y="177.5" width="124.80" height="124.80" fill="#08082a"/>
<text class="t" x="184.2" y="195.0" textLength="28.8" lengthAdjust="spacingAndGlyphs">t=50s</text>
<rect x="313.6" y="167.4" width="3.50" height="151.50" fill="url(#cm)"/>
<text class="k" x="319.1" y="321.65" textLength="3.5" lengthAdjust="spacingAndGlyphs">0</text><text class="k" x="319.1" y="306.32" textLength="9.2" lengthAdjust="spacingAndGlyphs">0.1</text><text class="k" x="319.1" y="290.99" textLength="9.2" lengthAdjust="spacingAndGlyphs">0.2</text><text class="k" x="319.1" y="275.66" textLength="9.2" lengthAdjust="spacingAndGlyphs">0.3</text><text class="k" x="319.1" y="260.33" textLength="9.2" lengthAdjust="spacingAndGlyphs">0.4</text><text class="k" x="319.1" y="245.00" textLength="9.2" lengthAdjust="spacingAndGlyphs">0.5</text><text class="k" x="319.1" y="229.67" textLength="9.2" lengthAdjust="spacingAndGlyphs">0.6</text><text class="k" x="319.1" y="214.34" textLength="9.2" lengthAdjust="spacingAndGlyphs">0.7</text><text class="k" x="319.1" y="199.01" textLength="9.2" lengthAdjust="spacingAndGlyphs">0.8</text><text class="k" x="319.1" y="183.68" textLength="9.2" lengthAdjust="spacingAndGlyphs">0.9</text>
<rect x="356.2" y="177.0" width="125.20" height="124.70" fill="#08082a"/>
<text class="t" x="362.0" y="195.0" textLength="28.8" lengthAdjust="spacingAndGlyphs">t=75s</text>
<rect x="491.0" y="167.0" width="3.20" height="151.50" fill="url(#cm)"/>
<text class="k" x="496.2" y="321.15" textLength="3.5" lengthAdjust="spacingAndGlyphs">0</text><text class="k" x="496.2" y="305.82" textLength="9.2" lengthAdjust="spacingAndGlyphs">0.1</text><text class="k" x="496.2" y="290.49" textLength="9.2" lengthAdjust="spacingAndGlyphs">0.2</text><text class="k" x="496.2" y="275.16" textLength="9.2" lengthAdjust="spacingAndGlyphs">0.3</text><text class="k" x="496.2" y="259.83" textLength="9.2" lengthAdjust="spacingAndGlyphs">0.4</text><text class="k" x="496.2" y="244.50" textLength="9.2" lengthAdjust="spacingAndGlyphs">0.5</text><text class="k" x="496.2" y="229.17" textLength="9.2" lengthAdjust="spacingAndGlyphs">0.6</text><text class="k" x="496.2" y="213.84" textLength="9.2" lengthAdjust="spacingAndGlyphs">0.7</text><text class="k" x="496.2" y="198.51" textLength="9.2" lengthAdjust="spacingAndGlyphs">0.8</text><text class="k" x="496.2" y="183.18" textLength="9.2" lengthAdjust="spacingAndGlyphs">0.9</text>
<rect x="534.4" y="176.1" width="125.70" height="125.60" fill="#08082a"/>
<text class="t" x="539.5" y="195.0" textLength="34.5" lengthAdjust="spacingAndGlyphs">t=100s</text>
<rect x="669.6" y="166.5" width="3.10" height="152.00" fill="url(#cm)"/>
<text class="k" x="674.7" y="321.15" textLength="3.5" lengthAdjust="spacingAndGlyphs">0</text><text class="k" x="674.7" y="305.79" textLength="9.2" lengthAdjust="spacingAndGlyphs">0.1</text><text class="k" x="674.7" y="290.43" textLength="9.2" lengthAdjust="spacingAndGlyphs">0.2</text><text class="k" x="674.7" y="275.07" textLength="9.2" lengthAdjust="spacingAndGlyphs">0.3</text><text class="k" x="674.7" y="259.71" textLength="9.2" lengthAdjust="spacingAndGlyphs">0.4</text><text class="k" x="674.7" y="244.35" textLength="9.2" lengthAdjust="spacingAndGlyphs">0.5</text><text class="k" x="674.7" y="228.99" textLength="9.2" lengthAdjust="spacingAndGlyphs">0.6</text><text class="k" x="674.7" y="213.63" textLength="9.2" lengthAdjust="spacingAndGlyphs">0.7</text><text class="k" x="674.7" y="198.27" textLength="9.2" lengthAdjust="spacingAndGlyphs">0.8</text><text class="k" x="674.7" y="182.91" textLength="9.2" lengthAdjust="spacingAndGlyphs">0.9</text>
<g filter="url(#b)"><path d="M63.60 240.10 L57.20 234.20" fill="none" stroke="url(#g21h)" stroke-width="1.9" stroke-linecap="round" stroke-linejoin="round" opacity="0.5"/><path d="M63.60 240.10 L57.20 234.20" fill="none" stroke="url(#g21c)" stroke-width="1.1" stroke-linecap="round" stroke-linejoin="round"/><path d="M63.60 240.10 L69.70 246.00" fill="none" stroke="url(#g22h)" stroke-width="1.9" stroke-linecap="round" stroke-linejoin="round" opacity="0.5"/><path d="M63.60 240.10 L69.70 246.00" fill="none" stroke="url(#g22c)" stroke-width="1.1" stroke-linecap="round" stroke-linejoin="round"/></g><circle cx="63.60" cy="240.10" r="3.15" fill="#fff"/>
<g filter="url(#b)"><path d="M241.70 239.80 L235.40 233.60 L230.30 226.00" fill="none" stroke="url(#g23h)" stroke-width="1.8" stroke-linecap="round" stroke-linejoin="round" opacity="0.65"/><path d="M241.70 239.80 L235.40 233.60 L230.30 226.00" fill="none" stroke="url(#g23c)" stroke-width="1.0" stroke-linecap="round" stroke-linejoin="round"/><path d="M241.70 239.80 L254.00 251.60" fill="none" stroke="url(#g24h)" stroke-width="1.8" stroke-linecap="round" stroke-linejoin="round" opacity="0.65"/><path d="M241.70 239.80 L254.00 251.60" fill="none" stroke="url(#g24c)" stroke-width="1.0" stroke-linecap="round" stroke-linejoin="round"/></g><circle cx="241.70" cy="239.80" r="3.15" fill="#fff"/>
<g filter="url(#b)"><path d="M418.80 239.50 L413.30 234.70 L405.70 223.60" fill="none" stroke="url(#g25h)" stroke-width="1.7" stroke-linecap="round" stroke-linejoin="round" opacity="0.65"/><path d="M418.80 239.50 L413.30 234.70 L405.70 223.60" fill="none" stroke="url(#g25c)" stroke-width="1.0" stroke-linecap="round" stroke-linejoin="round"/><path d="M418.80 239.50 L432.60 253.30" fill="none" stroke="url(#g26h)" stroke-width="1.7" stroke-linecap="round" stroke-linejoin="round" opacity="0.65"/><path d="M418.80 239.50 L432.60 253.30" fill="none" stroke="url(#g26c)" stroke-width="1.0" stroke-linecap="round" stroke-linejoin="round"/></g><circle cx="418.80" cy="239.50" r="3.15" fill="#fff"/>
<g filter="url(#b)"><path d="M597.10 239.00 L591.60 234.00 L582.90 221.30" fill="none" stroke="url(#g27h)" stroke-width="1.7" stroke-linecap="round" stroke-linejoin="round" opacity="0.65"/><path d="M597.10 239.00 L591.60 234.00 L582.90 221.30" fill="none" stroke="url(#g27c)" stroke-width="1.0" stroke-linecap="round" stroke-linejoin="round"/><path d="M597.10 239.00 L606.10 248.00 L611.10 251.60 L613.70 254.50" fill="none" stroke="url(#g28h)" stroke-width="1.7" stroke-linecap="round" stroke-linejoin="round" opacity="0.65"/><path d="M597.10 239.00 L606.10 248.00 L611.10 251.60 L613.70 254.50" fill="none" stroke="url(#g28c)" stroke-width="1.0" stroke-linecap="round" stroke-linejoin="round"/></g><circle cx="597.10" cy="239.00" r="3.15" fill="#fff"/>
<rect x="1.6" y="346.4" width="128.20" height="128.10" fill="#08082a"/>
<text class="t" x="6.8" y="362.0" textLength="28.8" lengthAdjust="spacingAndGlyphs">t=25s</text>
<rect x="139.6" y="337.2" width="3.80" height="153.80" fill="url(#cm)"/>
<text class="k" x="145.4" y="493.65" textLength="3.5" lengthAdjust="spacingAndGlyphs">0</text><text class="k" x="145.4" y="478.10" textLength="9.2" lengthAdjust="spacingAndGlyphs">0.1</text><text class="k" x="145.4" y="462.55" textLength="9.2" lengthAdjust="spacingAndGlyphs">0.2</text><text class="k" x="145.4" y="447.00" textLength="9.2" lengthAdjust="spacingAndGlyphs">0.3</text><text class="k" x="145.4" y="431.45" textLength="9.2" lengthAdjust="spacingAndGlyphs">0.4</text><text class="k" x="145.4" y="415.90" textLength="9.2" lengthAdjust="spacingAndGlyphs">0.5</text><text class="k" x="145.4" y="400.35" textLength="9.2" lengthAdjust="spacingAndGlyphs">0.6</text><text class="k" x="145.4" y="384.80" textLength="9.2" lengthAdjust="spacingAndGlyphs">0.7</text><text class="k" x="145.4" y="369.25" textLength="9.2" lengthAdjust="spacingAndGlyphs">0.8</text><text class="k" x="145.4" y="353.70" textLength="9.2" lengthAdjust="spacingAndGlyphs">0.9</text>
<rect x="178.0" y="347.2" width="128.00" height="127.80" fill="#08082a"/>
<text class="t" x="183.2" y="362.0" textLength="28.8" lengthAdjust="spacingAndGlyphs">t=50s</text>
<rect x="315.7" y="337.8" width="3.50" height="153.50" fill="url(#cm)"/>
<text class="k" x="321.2" y="493.95" textLength="3.5" lengthAdjust="spacingAndGlyphs">0</text><text class="k" x="321.2" y="478.43" textLength="9.2" lengthAdjust="spacingAndGlyphs">0.1</text><text class="k" x="321.2" y="462.91" textLength="9.2" lengthAdjust="spacingAndGlyphs">0.2</text><text class="k" x="321.2" y="447.39" textLength="9.2" lengthAdjust="spacingAndGlyphs">0.3</text><text class="k" x="321.2" y="431.87" textLength="9.2" lengthAdjust="spacingAndGlyphs">0.4</text><text class="k" x="321.2" y="416.35" textLength="9.2" lengthAdjust="spacingAndGlyphs">0.5</text><text class="k" x="321.2" y="400.83" textLength="9.2" lengthAdjust="spacingAndGlyphs">0.6</text><text class="k" x="321.2" y="385.31" textLength="9.2" lengthAdjust="spacingAndGlyphs">0.7</text><text class="k" x="321.2" y="369.79" textLength="9.2" lengthAdjust="spacingAndGlyphs">0.8</text><text class="k" x="321.2" y="354.27" textLength="9.2" lengthAdjust="spacingAndGlyphs">0.9</text>
<rect x="355.6" y="347.0" width="128.00" height="126.70" fill="#08082a"/>
<text class="t" x="360.6" y="362.0" textLength="28.8" lengthAdjust="spacingAndGlyphs">t=75s</text>
<rect x="493.3" y="337.5" width="3.50" height="153.10" fill="url(#cm)"/>
<text class="k" x="498.8" y="493.25" textLength="3.5" lengthAdjust="spacingAndGlyphs">0</text><text class="k" x="498.8" y="477.78" textLength="9.2" lengthAdjust="spacingAndGlyphs">0.1</text><text class="k" x="498.8" y="462.31" textLength="9.2" lengthAdjust="spacingAndGlyphs">0.2</text><text class="k" x="498.8" y="446.84" textLength="9.2" lengthAdjust="spacingAndGlyphs">0.3</text><text class="k" x="498.8" y="431.37" textLength="9.2" lengthAdjust="spacingAndGlyphs">0.4</text><text class="k" x="498.8" y="415.90" textLength="9.2" lengthAdjust="spacingAndGlyphs">0.5</text><text class="k" x="498.8" y="400.43" textLength="9.2" lengthAdjust="spacingAndGlyphs">0.6</text><text class="k" x="498.8" y="384.96" textLength="9.2" lengthAdjust="spacingAndGlyphs">0.7</text><text class="k" x="498.8" y="369.49" textLength="9.2" lengthAdjust="spacingAndGlyphs">0.8</text><text class="k" x="498.8" y="354.02" textLength="9.2" lengthAdjust="spacingAndGlyphs">0.9</text>
<rect x="531.8" y="346.3" width="128.30" height="128.10" fill="#08082a"/>
<text class="t" x="537.4" y="362.0" textLength="34.5" lengthAdjust="spacingAndGlyphs">t=100s</text>
<rect x="670.1" y="337.4" width="3.00" height="153.40" fill="url(#cm)"/>
<text class="k" x="675.1" y="493.45" textLength="3.5" lengthAdjust="spacingAndGlyphs">0</text><text class="k" x="675.1" y="477.95" textLength="9.2" lengthAdjust="spacingAndGlyphs">0.1</text><text class="k" x="675.1" y="462.45" textLength="9.2" lengthAdjust="spacingAndGlyphs">0.2</text><text class="k" x="675.1" y="446.95" textLength="9.2" lengthAdjust="spacingAndGlyphs">0.3</text><text class="k" x="675.1" y="431.45" textLength="9.2" lengthAdjust="spacingAndGlyphs">0.4</text><text class="k" x="675.1" y="415.95" textLength="9.2" lengthAdjust="spacingAndGlyphs">0.5</text><text class="k" x="675.1" y="400.45" textLength="9.2" lengthAdjust="spacingAndGlyphs">0.6</text><text class="k" x="675.1" y="384.95" textLength="9.2" lengthAdjust="spacingAndGlyphs">0.7</text><text class="k" x="675.1" y="369.45" textLength="9.2" lengthAdjust="spacingAndGlyphs">0.8</text><text class="k" x="675.1" y="353.95" textLength="9.2" lengthAdjust="spacingAndGlyphs">0.9</text>
<g filter="url(#b)"><path d="M43.00 410.10 Q54.40 408.30 65.80 408.60 Q77.00 408.30 88.20 411.30 Q77.00 412.90 65.80 412.60 Q54.40 412.90 43.00 410.10Z" fill="url(#g29)" stroke="url(#g29o)" stroke-width="0.7" stroke-opacity="0.75"/><path d="M49.84 410.60 L81.48 410.70" stroke="#5a0c04" stroke-width="0.9" opacity="0.7"/></g><circle cx="65.80" cy="410.60" r="3.05" fill="#fff"/>
<g filter="url(#b)"><path d="M226.50 410.50 L218.00 410.00 L208.80 409.40" fill="none" stroke="#2c9cdc" stroke-width="2.3" stroke-linecap="round" stroke-linejoin="round" opacity="0.9"/><path d="M226.50 410.50 L218.00 410.00 L208.80 409.40" fill="none" stroke="url(#g30)" stroke-width="1.0" stroke-linecap="round" stroke-linejoin="round"/><path d="M258.50 411.40 L264.00 412.20 L268.50 413.00 L272.00 412.90 L274.40 411.90" fill="none" stroke="#2c9cdc" stroke-width="2.3" stroke-linecap="round" stroke-linejoin="round" opacity="0.9"/><path d="M258.50 411.40 L264.00 412.20 L268.50 413.00 L272.00 412.90 L274.40 411.90" fill="none" stroke="url(#g31)" stroke-width="1.0" stroke-linecap="round" stroke-linejoin="round"/><path d="M270.00 413.00 L273.00 412.70" fill="none" stroke="#c8c430" stroke-width="1.9" stroke-linecap="round" stroke-linejoin="round" opacity="0.85"/><path d="M270.00 413.00 L273.00 412.70" fill="none" stroke="#e08c10" stroke-width="1.05" stroke-linecap="round" stroke-linejoin="round"/><path d="M225.00 410.60 Q233.50 408.71 242.00 409.00 Q251.00 408.71 260.00 411.40 Q251.00 413.08 242.00 412.80 Q233.50 413.08 225.00 410.60Z" fill="url(#g32)" stroke="url(#g32o)" stroke-width="0.7" stroke-opacity="0.75"/><path d="M230.10 410.90 L254.60 411.00" stroke="#5a0c04" stroke-width="0.9" opacity="0.7"/></g><circle cx="242.00" cy="410.90" r="3.1" fill="#fff"/>
<g filter="url(#b)"><path d="M403.50 410.00 L394.00 409.20 L386.00 408.50 L382.80 408.20" fill="none" stroke="#2c9cdc" stroke-width="2.3" stroke-linecap="round" stroke-linejoin="round" opacity="0.9"/><path d="M403.50 410.00 L394.00 409.20 L386.00 408.50 L382.80 408.20" fill="none" stroke="url(#g33)" stroke-width="1.0" stroke-linecap="round" stroke-linejoin="round"/><path d="M435.50 411.00 L442.00 411.90 L447.00 412.60 L453.00 412.30 L457.20 412.00" fill="none" stroke="#2c9cdc" stroke-width="2.3" stroke-linecap="round" stroke-linejoin="round" opacity="0.9"/><path d="M435.50 411.00 L442.00 411.90 L447.00 412.60 L453.00 412.30 L457.20 412.00" fill="none" stroke="url(#g34)" stroke-width="1.0" stroke-linecap="round" stroke-linejoin="round"/><path d="M448.50 412.60 L453.00 412.30 L456.00 412.10" fill="none" stroke="#c8c430" stroke-width="1.9" stroke-linecap="round" stroke-linejoin="round" opacity="0.85"/><path d="M448.50 412.60 L453.00 412.30 L456.00 412.10" fill="none" stroke="#d05008" stroke-width="1.05" stroke-linecap="round" stroke-linejoin="round"/><path d="M383.80 408.20 L385.50 408.40" fill="none" stroke="#c8c430" stroke-width="1.9" stroke-linecap="round" stroke-linejoin="round" opacity="0.85"/><path d="M383.80 408.20 L385.50 408.40" fill="none" stroke="#e09010" stroke-width="1.05" stroke-linecap="round" stroke-linejoin="round"/><path d="M402.10 410.10 Q410.85 408.31 419.60 408.60 Q428.10 408.31 436.60 411.00 Q428.10 412.69 419.60 412.40 Q410.85 412.69 402.10 410.10Z" fill="url(#g35)" stroke="url(#g35o)" stroke-width="0.7" stroke-opacity="0.75"/><path d="M407.35 410.50 L431.50 410.60" stroke="#5a0c04" stroke-width="0.9" opacity="0.7"/></g><circle cx="419.60" cy="410.50" r="3.1" fill="#fff"/>
<g filter="url(#b)"><path d="M580.00 410.00 L570.00 409.20 L562.00 408.30 L557.00 408.00 L554.20 407.70" fill="none" stroke="#2c9cdc" stroke-width="2.3" stroke-linecap="round" stroke-linejoin="round" opacity="0.9"/><path d="M580.00 410.00 L570.00 409.20 L562.00 408.30 L557.00 408.00 L554.20 407.70" fill="none" stroke="url(#g36)" stroke-width="1.0" stroke-linecap="round" stroke-linejoin="round"/><path d="M611.50 410.90 L618.00 411.70 L623.00 412.40 L630.00 412.30 L637.30 411.40" fill="none" stroke="#2c9cdc" stroke-width="2.3" stroke-linecap="round" stroke-linejoin="round" opacity="0.9"/><path d="M611.50 410.90 L618.00 411.70 L623.00 412.40 L630.00 412.30 L637.30 411.40" fill="none" stroke="url(#g37)" stroke-width="1.0" stroke-linecap="round" stroke-linejoin="round"/><path d="M625.00 412.50 L630.00 412.30 L636.30 411.60" fill="none" stroke="#c8c430" stroke-width="1.9" stroke-linecap="round" stroke-linejoin="round" opacity="0.85"/><path d="M625.00 412.50 L630.00 412.30 L636.30 411.60" fill="none" stroke="#c84008" stroke-width="1.05" stroke-linecap="round" stroke-linejoin="round"/><path d="M556.80 408.00 L561.50 408.30" fill="none" stroke="#c8c430" stroke-width="1.9" stroke-linecap="round" stroke-linejoin="round" opacity="0.85"/><path d="M556.80 408.00 L561.50 408.30" fill="none" stroke="#d05808" stroke-width="1.05" stroke-linecap="round" stroke-linejoin="round"/><path d="M578.70 410.10 Q587.20 408.31 595.70 408.60 Q604.20 408.31 612.70 410.90 Q604.20 412.69 595.70 412.40 Q587.20 412.69 578.70 410.10Z" fill="url(#g38)" stroke="url(#g38o)" stroke-width="0.7" stroke-opacity="0.75"/><path d="M583.80 410.50 L607.60 410.60" stroke="#5a0c04" stroke-width="0.9" opacity="0.7"/></g><circle cx="595.70" cy="410.50" r="3.1" fill="#fff"/>
<text class="c" x="335.8" y="162.9">(<tspan font-weight="bold">a</tspan>)</text>
<text class="c" x="335.8" y="333.4">(<tspan font-weight="bold">b</tspan>)</text>
<text class="c" x="335.8" y="504.4">(<tspan font-weight="bold">c</tspan>)</text>
</svg>
</body></html>
